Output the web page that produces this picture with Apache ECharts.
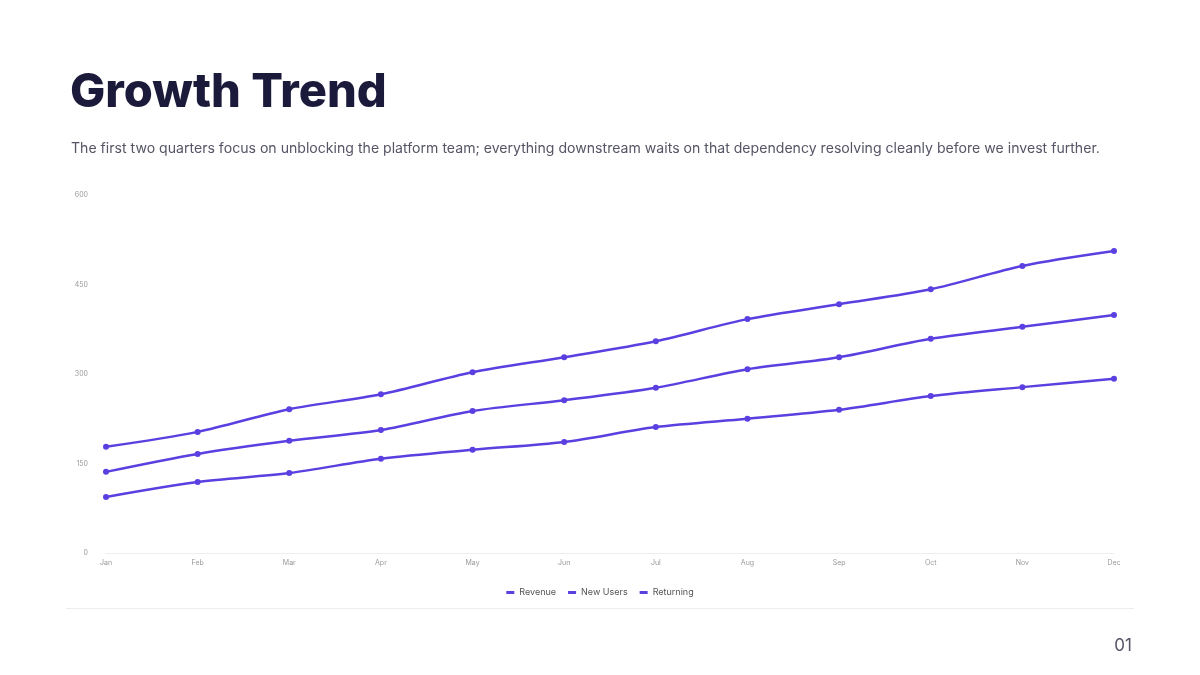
<!DOCTYPE html>
<html><head><meta charset="utf-8">
<script src="https://cdn.jsdelivr.net/npm/echarts@6/dist/echarts.min.js"></script>
<style>html,body{margin:0;padding:0;background:#fff}#c{width:1200px;height:675px}</style>
</head><body><div id="c"></div>
<script>
const months = ['Jan','Feb','Mar','Apr','May','Jun','Jul','Aug','Sep','Oct','Nov','Dec'];
const revenue = [94,119,134,158,173,186,211,225,240,263,278,292];
const newUsers = [136,166,188,206,238,256,277,308,328,359,379,399];
const returning = [178,203,241,266,303,328,355,392,417,442,481,506];
const yTicks = [0,150,300,450,600];
const color = '#5b3fe0';
const mk = (name, data) => ({name, type:'line', data, smooth:0.3, symbol:'circle', symbolSize:6,
  lineStyle:{width:2.5,color}, itemStyle:{color}});
const chart = echarts.init(document.getElementById('c'));
chart.setOption({
  animation:false,
  title:[
    {text:'Growth Trend', left:65, top:64, textStyle:{fontFamily:'Inter', fontWeight:800, fontSize:47, color:'#1c1a3a'}},
    {text:'The first two quarters focus on unblocking the platform team; everything downstream waits on that dependency resolving cleanly before we invest further.',
     left:66, top:137, textStyle:{fontFamily:'Inter', fontWeight:400, fontSize:14.1, color:'#555566'}},
    {text:'01', right:63, top:632, textStyle:{fontFamily:'Inter', fontWeight:400, fontSize:17, color:'#555566'}}
  ],
  grid:{left:106, right:86, top:195, bottom:122},
  legend:{bottom:73, left:'center', icon:'rect', itemWidth:8, itemHeight:3, itemGap:12,
    textStyle:{fontFamily:'Inter', fontSize:9, color:'#555'}, data:['Revenue','New Users','Returning']},
  xAxis:{type:'category', boundaryGap:false, data:months,
    axisLine:{lineStyle:{color:'#eeeeee'}}, axisTick:{show:false},
    axisLabel:{fontFamily:'Inter', fontSize:7, color:'#999', margin:6}},
  yAxis:{type:'value', min:yTicks[0], max:yTicks[yTicks.length-1], interval:150,
    splitLine:{show:false}, axisLine:{show:false}, axisTick:{show:false},
    axisLabel:{fontFamily:'Inter', fontSize:7, color:'#999', margin:18}},
  series:[mk('Revenue',revenue), mk('New Users',newUsers), mk('Returning',returning)],
  graphic:[{type:'line', shape:{x1:66,y1:608.5,x2:1134,y2:608.5}, style:{stroke:'#eeeeee', lineWidth:1}}]
});
</script></body></html>
